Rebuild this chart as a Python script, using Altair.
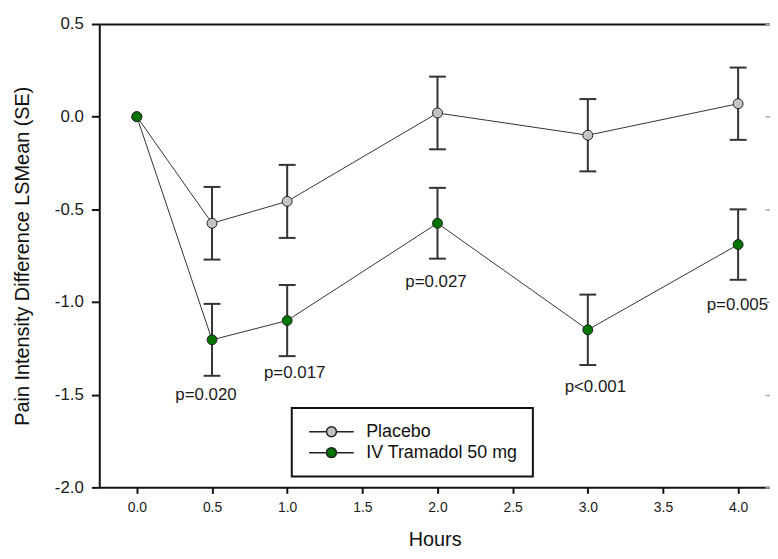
import altair as alt
import pandas as pd

# ---- data ----
hours = [0.0, 0.5, 1.0, 2.0, 3.0, 4.0]
placebo_mean = [0.0, -0.575, -0.457, 0.020, -0.100, 0.070]
placebo_se = [0.0, 0.196, 0.197, 0.196, 0.195, 0.195]
tramadol_mean = [0.0, -1.204, -1.100, -0.575, -1.150, -0.690]
tramadol_se = [0.0, 0.194, 0.192, 0.191, 0.190, 0.190]
series = ["Placebo", "IV Tramadol 50 mg"]
colors = ["#c4c4c4", "#007400"]

p_labels = ["p=0.020", "p=0.017", "p=0.027", "p<0.001", "p=0.005"]
p_hours = [0.46, 1.05, 1.99, 3.05, 3.995]
p_y = [-1.50, -1.385, -0.89, -1.46, -1.015]

x_ticks = [0.0, 0.5, 1.0, 1.5, 2.0, 2.5, 3.0, 3.5, 4.0]
y_ticks = [0.5, 0.0, -0.5, -1.0, -1.5, -2.0]

FONT = "Liberation Sans"

rows = []
for name, means, ses in [(series[0], placebo_mean, placebo_se),
                         (series[1], tramadol_mean, tramadol_se)]:
    for h, m, s in zip(hours, means, ses):
        rows.append({"series": name, "hour": h, "mean": m,
                     "lo": m - s, "hi": m + s, "se": s})
df = pd.DataFrame(rows)
err = df[df["se"] > 0].copy()
caps = pd.concat([
    err[["series", "hour"]].assign(value=err["lo"]),
    err[["series", "hour"]].assign(value=err["hi"]),
])
ptxt = pd.DataFrame({"hour": p_hours, "y": p_y, "label": p_labels})

xscale = alt.Scale(domain=[-0.25, 4.212], nice=False, zero=False)
yscale = alt.Scale(domain=[-2.0, 0.5], nice=False, zero=False)

minus_fix = "replace(format(datum.value, '.1f'), '\u2212', '-')"

x_bottom = alt.Axis(orient="bottom", values=x_ticks, labelExpr=minus_fix, title="Hours",
                    grid=False, domainColor="#111", domainWidth=2, tickColor="#111",
                    tickWidth=2, tickSize=6, labelFontSize=14, labelPadding=7,
                    labelColor="#1a1a1a", titleFontSize=20, titleFontWeight="normal",
                    titleColor="#111", titlePadding=16, labelFlush=False)
y_left = alt.Axis(orient="left", values=y_ticks, labelExpr=minus_fix,
                  title="Pain Intensity Difference LSMean (SE)", grid=False,
                  domainColor="#111", domainWidth=2, tickColor="#111", tickWidth=2,
                  tickSize=8, labelFontSize=17, labelPadding=8, labelColor="#1a1a1a",
                  titleFontSize=20, titleFontWeight="normal", titleColor="#111",
                  titlePadding=22, labelFlush=False)
x_top = alt.Axis(orient="top", labels=False, ticks=False, title=None, grid=False,
                 domainColor="#111", domainWidth=2)
y_right = alt.Axis(orient="right", labels=False, domain=False, title=None, grid=False,
                   values=y_ticks, tickColor="#aaaaaa", tickWidth=1.5, tickSize=5,
                   offset=-5)

lines = alt.Chart(df).mark_line(color="#333333", strokeWidth=1).encode(
    x=alt.X("hour:Q", scale=xscale, axis=x_bottom),
    y=alt.Y("mean:Q", scale=yscale, axis=y_left),
    detail="series:N",
)

bars = alt.Chart(err).mark_rule(color="#333333", strokeWidth=2).encode(
    x=alt.X("hour:Q", scale=xscale, axis=None),
    y=alt.Y("lo:Q", scale=yscale, axis=None),
    y2="hi:Q",
)

cap_marks = alt.Chart(caps).mark_tick(orient="horizontal", size=17, thickness=2,
                                      color="#333333", opacity=1).encode(
    x=alt.X("hour:Q", scale=xscale, axis=x_top),
    y=alt.Y("value:Q", scale=yscale, axis=y_right),
)

symbol_path = "M-4.5,0L-1,0M1,0L4.5,0M1,0A1,1,0,1,1,-1,0A1,1,0,1,1,1,0Z"

points = alt.Chart(df).mark_circle(size=100, stroke="#222222", strokeWidth=1,
                                   opacity=1).encode(
    x=alt.X("hour:Q", scale=xscale, axis=None),
    y=alt.Y("mean:Q", scale=yscale, axis=None),
    fill=alt.Fill("series:N", scale=alt.Scale(domain=series, range=colors),
                  legend=alt.Legend(title=None, orient="none", legendX=194, legendY=387,
                                    symbolType=symbol_path, symbolSize=100,
                                    symbolOffset=16, labelOffset=26, labelFontSize=18,
                                    labelFont=FONT, labelColor="#111", padding=15,
                                    rowPadding=3, strokeColor="#111",
                                    symbolStrokeColor="#222", symbolStrokeWidth=1.5,
                                    fillColor="white", labelLimit=400)),
    order=alt.Order("series:N", sort="descending"),
)

texts = alt.Chart(ptxt).mark_text(font=FONT, fontSize=17, color="#1a1a1a",
                                  align="center", baseline="middle").encode(
    x=alt.X("hour:Q", scale=xscale, axis=None),
    y=alt.Y("y:Q", scale=yscale, axis=None),
    text="label:N",
)

chart = alt.layer(lines, bars, cap_marks, points, texts).properties(
    width=676, height=467,
    padding={"left": 92, "top": 14, "right": 0, "bottom": 62},
    autosize=alt.AutoSizeParams(type="none"),
).configure_view(stroke=None).configure_axis(
    labelFont=FONT, titleFont=FONT
).configure_legend(strokeWidth=2)

chart.save("out.html", embed_options={"renderer": "svg", "actions": False})
